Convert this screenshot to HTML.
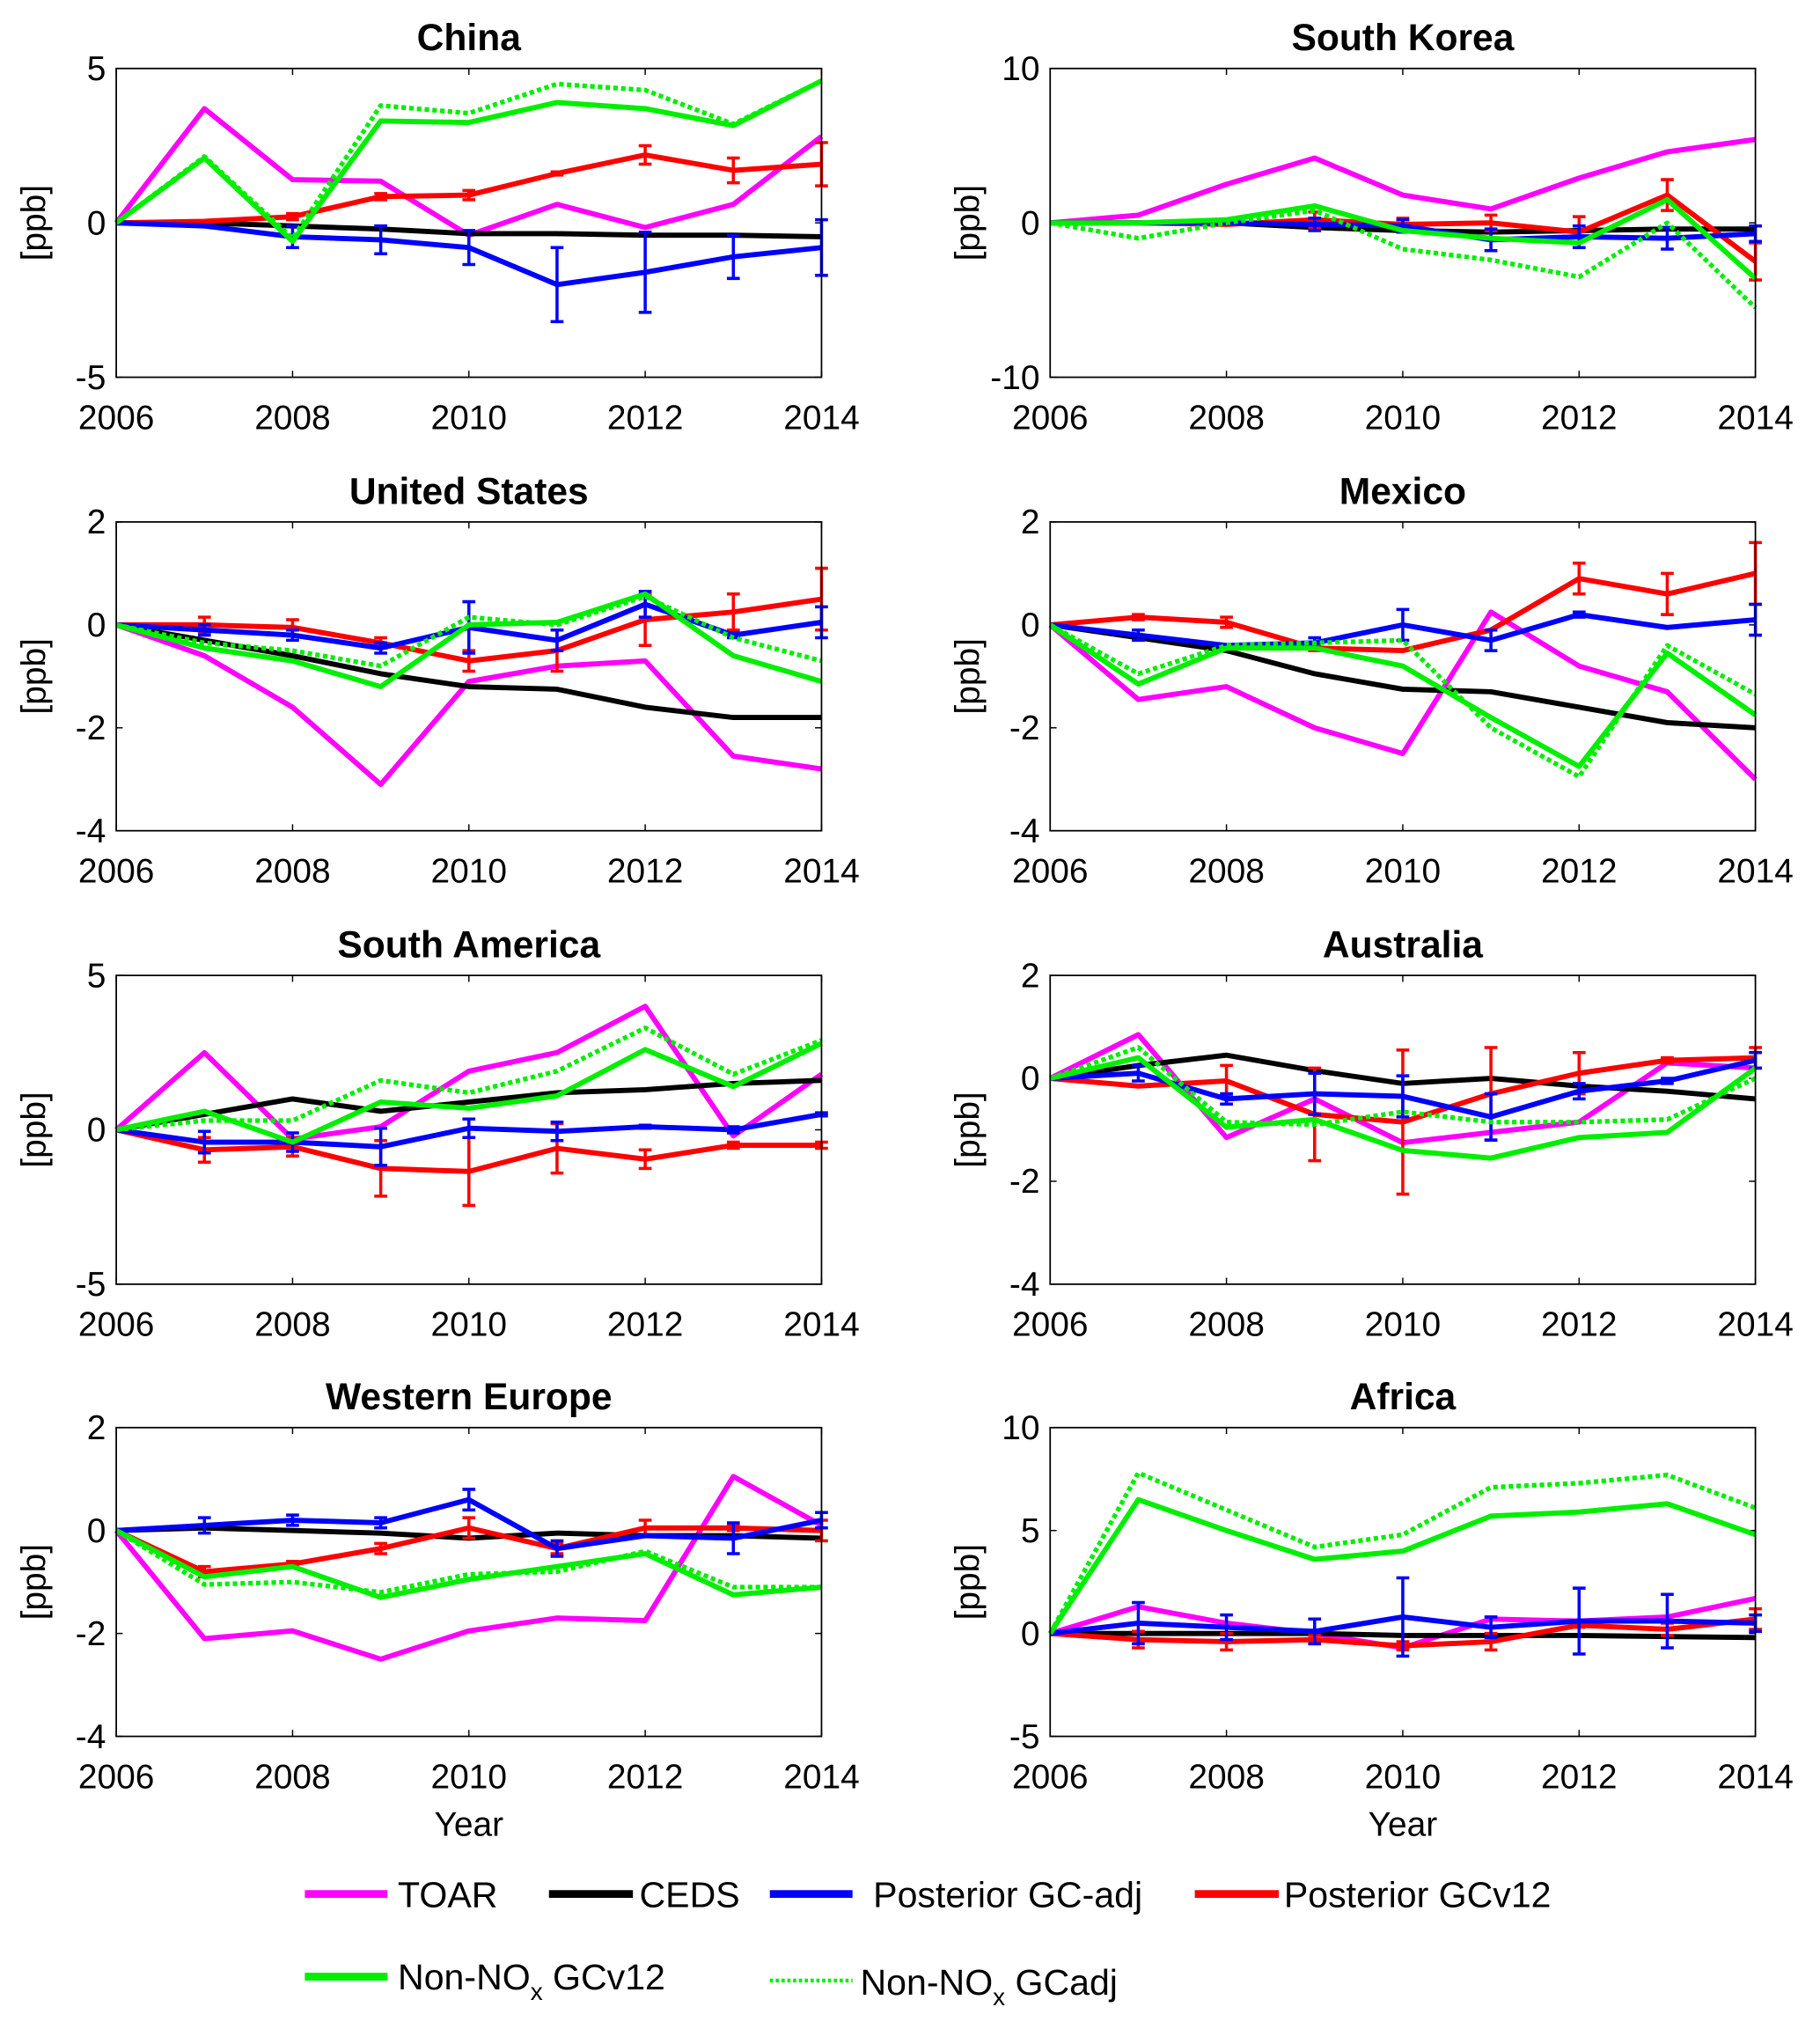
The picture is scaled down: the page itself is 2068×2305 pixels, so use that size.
<!DOCTYPE html>
<html><head><meta charset="utf-8">
<style>
html,body{margin:0;padding:0;background:#fff;}
svg{display:block;}
text{font-family:"Liberation Sans",sans-serif;fill:#000;}
</style></head>
<body>
<svg id="fig" width="2068" height="2305" viewBox="0 0 1409 1570.5" preserveAspectRatio="none" xmlns="http://www.w3.org/2000/svg"></svg>
<script>
const years = [2006,2007,2008,2009,2010,2011,2012,2013,2014];
const xTicks = [2006,2008,2010,2012,2014];
const panelNames = ["China","South Korea","United States","Mexico","South America","Australia","Western Europe","Africa"];
const yRanges = [[-5,5],[-10,10],[-4,2],[-4,2],[-5,5],[-4,2],[-4,2],[-5,10]];
const yTickSets = [[-5,0,5],[-10,0,10],[-4,-2,0,2],[-4,-2,0,2],[-5,0,5],[-4,-2,0,2],[-4,-2,0,2],[-5,0,5,10]];

const toar = [
[0,3.7,1.4,1.35,-0.4,0.6,-0.15,0.6,2.8],
[0,0.5,2.5,4.2,1.8,0.9,2.9,4.6,5.4],
[0,-0.6,-1.6,-3.1,-1.1,-0.8,-0.7,-2.55,-2.8],
[0,-1.45,-1.2,-2.0,-2.5,0.25,-0.8,-1.3,-3.0],
[0,2.5,-0.3,0.1,1.9,2.5,4.0,-0.2,1.8],
[0,0.85,-1.15,-0.4,-1.25,-1.05,-0.85,0.3,0.2],
[0,-2.1,-1.95,-2.5,-1.95,-1.7,-1.75,1.05,0.1],
[0,1.3,0.5,0,-0.7,0.7,0.6,0.8,1.7]];
const ceds = [
[0,0,-0.1,-0.2,-0.35,-0.35,-0.4,-0.4,-0.45],
[0,0,0,-0.3,-0.5,-0.6,-0.5,-0.4,-0.4],
[0,-0.3,-0.6,-0.95,-1.2,-1.25,-1.6,-1.8,-1.8],
[0,-0.25,-0.5,-0.95,-1.25,-1.3,-1.6,-1.9,-2.0],
[0,0.5,1.0,0.6,0.9,1.2,1.3,1.5,1.6],
[0,0.25,0.45,0.15,-0.1,0,-0.15,-0.25,-0.4],
[0,0.05,0,-0.05,-0.15,-0.05,-0.1,-0.1,-0.15],
[0,0,0,0,-0.1,-0.1,-0.1,-0.15,-0.2]];
const gcadj = [
[0,-0.1,-0.45,-0.55,-0.8,-2.0,-1.6,-1.1,-0.8],
[0,0,0,-0.1,-0.2,-1.1,-0.9,-1.0,-0.7],
[0,-0.1,-0.2,-0.45,-0.05,-0.3,0.4,-0.2,0.05],
[0,-0.2,-0.4,-0.35,0,-0.3,0.2,-0.05,0.1],
[0,-0.4,-0.4,-0.55,0.05,-0.05,0.1,0,0.5],
[0,0.1,-0.4,-0.3,-0.35,-0.75,-0.25,-0.05,0.35],
[0,0.1,0.2,0.15,0.6,-0.35,-0.1,-0.15,0.2],
[0,0.5,0.3,0.1,0.8,0.3,0.6,0.6,0.5]];
const gcadjErr = [
[0,0,0.35,0.45,0.55,1.2,1.3,0.7,0.9],
[0,0,0,0.4,0.4,0.7,0.7,0.7,0.5],
[0,0.1,0.1,0.1,0.5,0.2,0.25,0.05,0.3],
[0,0.1,0,0.1,0.3,0.2,0.05,0,0.3],
[0,0.35,0.3,0.6,0.3,0.3,0.05,0.1,0.05],
[0,0.15,0.1,0.4,0.4,0.45,0.15,0.05,0.15],
[0,0.15,0.1,0.1,0.2,0.15,0,0.3,0.15],
[0,1.0,0.6,0.6,1.9,0.5,1.6,1.3,0.4]];
const gcv12 = [
[0,0.05,0.2,0.85,0.9,1.6,2.2,1.7,1.9],
[0,0,-0.1,0.2,-0.1,0,-0.6,1.8,-2.5],
[0,0,-0.05,-0.35,-0.7,-0.5,0.1,0.25,0.5],
[0,0.15,0.05,-0.45,-0.5,-0.1,0.9,0.6,1.0],
[0,-0.65,-0.55,-1.25,-1.35,-0.6,-0.95,-0.5,-0.5],
[0,-0.15,-0.05,-0.7,-0.85,-0.3,0.1,0.35,0.4],
[0,-0.8,-0.65,-0.35,0.05,-0.35,0.05,0.05,0],
[0,-0.3,-0.4,-0.3,-0.6,-0.4,0.4,0.2,0.7]];
const gcv12Err = [
[0,0,0.1,0.1,0.15,0.05,0.3,0.4,0.7],
[0,0,0,0.5,0.4,0.5,1.0,1.0,1.2],
[0,0.15,0.15,0.1,0.2,0.4,0.5,0.35,0.6],
[0,0.05,0.1,0.05,0,0,0.3,0.4,0.6],
[0,0.4,0.3,0.9,1.1,0.8,0.3,0.1,0.1],
[0,0,0.3,0.9,1.4,0.9,0.4,0.05,0.2],
[0,0.1,0.05,0.1,0.2,0.1,0.15,0.05,0.2],
[0,0.4,0.4,0.2,0.2,0.4,0.1,0.3,0.5]];
const nonNoxV12 = [
[0,2.1,-0.6,3.3,3.25,3.9,3.7,3.15,4.6],
[0,0,0.2,1.1,-0.5,-1.0,-1.3,1.5,-3.6],
[0,-0.45,-0.7,-1.2,0,0.05,0.6,-0.6,-1.1],
[0,-1.15,-0.45,-0.45,-0.8,-1.8,-2.75,-0.55,-1.75],
[0,0.6,-0.4,0.9,0.7,1.1,2.6,1.4,2.8],
[0,0.4,-0.95,-0.8,-1.4,-1.55,-1.15,-1.05,0.2],
[0,-0.9,-0.7,-1.3,-0.95,-0.7,-0.45,-1.25,-1.1],
[0,6.5,5.0,3.6,4.0,5.7,5.9,6.3,4.8]];
const nonNoxAdj = [
[0,2.15,-0.5,3.8,3.55,4.5,4.3,3.2,4.6],
[0,-1.0,0,0.8,-1.7,-2.4,-3.5,0,-5.5],
[0,-0.35,-0.5,-0.8,0.15,0,0.55,-0.25,-0.7],
[0,-0.95,-0.4,-0.35,-0.3,-2.0,-2.95,-0.4,-1.35],
[0,0.3,0.3,1.6,1.2,1.9,3.3,1.8,2.9],
[0,0.6,-0.85,-0.9,-0.65,-0.85,-0.85,-0.8,0.0],
[0,-1.05,-1.0,-1.2,-0.85,-0.8,-0.4,-1.1,-1.1],
[0,7.8,6.0,4.2,4.8,7.1,7.3,7.7,6.1]];

const NS = "http://www.w3.org/2000/svg";
const svg = document.getElementById('fig');
function mk(tag, attrs, parent){
  const e = document.createElementNS(NS, tag);
  for (const k in attrs) e.setAttribute(k, attrs[k]);
  (parent||svg).appendChild(e);
  return e;
}
const colLeft = [90, 813], axW = 546;
const rowTop = [53, 404, 755, 1105], axH = 239;

panelNames.forEach((name, i) => {
  const L = colLeft[i%2], T = rowTop[Math.floor(i/2)];
  const [y0, y1] = yRanges[i];
  const sx = v => L + (v-2006)/(2014-2006)*axW;
  const sy = v => T + axH - (v-y0)/(y1-y0)*axH;
  const g = mk('g', {});
  
  
  const title = mk('text', {x: L+axW/2, y: T-14, 'text-anchor':'middle', 'font-size':29, 'font-weight':'bold'}, g);
  title.textContent = name;
  
  
  xTicks.forEach(t => {
    mk('line', {x1:sx(t), x2:sx(t), y1:T+axH, y2:T+axH-5, stroke:'#000', 'stroke-width':1}, g);
    mk('line', {x1:sx(t), x2:sx(t), y1:T, y2:T+5, stroke:'#000', 'stroke-width':1}, g);
    const tl = mk('text', {x:sx(t), y:T+axH+40, 'text-anchor':'middle', 'font-size':26.5}, g);
    tl.textContent = t;
    
    
  });
  yTickSets[i].forEach(t => {
    mk('line', {x1:L, x2:L+5, y1:sy(t), y2:sy(t), stroke:'#000', 'stroke-width':1}, g);
    mk('line', {x1:L+axW, x2:L+axW-5, y1:sy(t), y2:sy(t), stroke:'#000', 'stroke-width':1}, g);
    const tl = mk('text', {x:L-8, y:sy(t)+9, 'text-anchor':'end', 'font-size':26.5}, g);
    tl.textContent = t;
    
    
  });
  const yl = mk('text', {x:0, y:0, transform:`translate(${L-55},${T+axH/2}) rotate(-90)`, 'text-anchor':'middle', 'font-size':26.5}, g);
  yl.textContent = '[ppb]';
  
  
  if (i >= 6) {
    const xl = mk('text', {x:L+axW/2, y:T+axH+77, 'text-anchor':'middle', 'font-size':26.5}, g);
    xl.textContent = 'Year';
    
    
  }
  const line = (arr, color, name, dash) => {
    const pts = years.map((y,k) => sx(y)+','+sy(arr[k])).join(' ');
    const p = mk('polyline', {points: pts, fill:'none', stroke:color, 'stroke-width':dash?3.6:4, 'stroke-linejoin':'round'}, g);
    if (dash) p.setAttribute('stroke-dasharray', '3.5 2.5');
    
    
  };
  const errs = (arr, err, color, name) => {
    years.forEach((y,k) => {
      if (err[k] <= 0) return;
      const x = sx(y), a = sy(arr[k]-err[k]), b = sy(arr[k]+err[k]);
      const e = mk('path', {d:`M${x},${a}V${b}M${x-5},${a}H${x+5}M${x-5},${b}H${x+5}`, stroke:color, 'stroke-width':2.4, fill:'none'}, g);
      
      
    });
  };
  line(toar[i], '#ff00ff', 'toar-line');
  line(ceds[i], '#000000', 'ceds-line');
  line(gcv12[i], '#ff0000', 'posterior-gcv12-line');
  errs(gcv12[i], gcv12Err[i], '#ff0000', 'posterior-gcv12-error-bar');
  line(gcadj[i], '#0000ff', 'posterior-gc-adj-line');
  errs(gcadj[i], gcadjErr[i], '#0000ff', 'posterior-gc-adj-error-bar');
  line(nonNoxV12[i], '#00ee00', 'non-nox-gcv12-line');
  line(nonNoxAdj[i], '#00ee00', 'non-nox-gcadj-line', true);
  mk('rect', {x:L, y:T, width:axW, height:axH, fill:'none', stroke:'#000', 'stroke-width':1.2}, g);
});
</script>
<svg style="position:absolute;left:0;top:0" width="2068" height="2305" viewBox="0 0 1409 1570.5" preserveAspectRatio="none" xmlns="http://www.w3.org/2000/svg">
  <g><line x1="236" x2="300" y1="1466" y2="1466" stroke="#ff00ff" stroke-width="6"/><text x="308" y="1476" font-size="28">TOAR</text></g>
  <g><line x1="425" x2="490" y1="1466" y2="1466" stroke="#000" stroke-width="6"/><text x="495" y="1476" font-size="28">CEDS</text></g>
  <g><line x1="596" x2="660" y1="1466" y2="1466" stroke="#0000ff" stroke-width="6"/><text x="676" y="1476" font-size="28">Posterior GC-adj</text></g>
  <g><line x1="925" x2="990" y1="1466" y2="1466" stroke="#ff0000" stroke-width="6"/><text x="994" y="1476" font-size="28">Posterior GCv12</text></g>
  <g><line x1="236" x2="300" y1="1530" y2="1530" stroke="#00ee00" stroke-width="6"/><text x="308" y="1540" font-size="28">Non-NO<tspan font-size="19" dy="8">x</tspan><tspan dy="-8"> GCv12</tspan></text></g>
  <g><line x1="596" x2="660" y1="1533" y2="1533" stroke="#00ee00" stroke-width="3" stroke-dasharray="2.5 2"/><text x="666" y="1544" font-size="28">Non-NO<tspan font-size="19" dy="8">x</tspan><tspan dy="-8"> GCadj</tspan></text></g>
</svg>
</body></html>
